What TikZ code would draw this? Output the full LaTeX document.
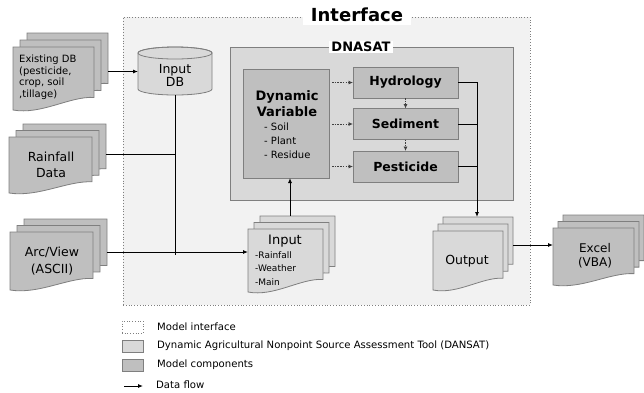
\documentclass[tikz,border=0pt]{standalone}
\usepackage{fontspec}
\setmainfont{DejaVu Sans}
\usetikzlibrary{arrows.meta,calc}
\definecolor{gA}{HTML}{F2F2F2}
\definecolor{gB}{HTML}{D9D9D9}
\definecolor{gC}{HTML}{BFBFBF}
\definecolor{bord}{HTML}{7F7F7F}
\definecolor{dashc}{HTML}{404040}
\tikzset{
  docline/.style={draw=bord, line width=0.8pt},
  stackbox/.style={inner sep=0pt, outer sep=0pt},
  compbox/.style={draw=bord, fill=gC, line width=0.8pt, inner sep=0pt, outer sep=0pt, font=\bfseries\fontsize{12.5}{14}\selectfont},
  flow/.style={draw=black, line width=0.9pt, -{Latex[length=5pt,width=4pt]}},
  plainline/.style={draw=black, line width=0.9pt},
  dasharrow/.style={draw=dashc, line width=0.8pt, dash pattern=on 1.5pt off 1.2pt, -{Latex[length=4.5pt,width=4pt]}},
  legendbox/.style={draw=bord, line width=0.7pt, minimum width=21pt, minimum height=12pt, inner sep=0pt},
  legendtext/.style={anchor=west, font=\fontsize{10.1}{12}\selectfont, inner sep=0pt},
}
\newcommand\docstack[4]{%
  \foreach \k in {2,1,0}{
    \draw[docline,fill=#4] let \p1=(#1.south west), \p2=(#1.north east),
      \n1={\x1+\k*#2pt}, \n2={\x2-(2-\k)*#2pt},
      \n3={\y1+\k*#3pt}, \n4={\y2-(2-\k)*#3pt}
      in (\n1,\n4) -- (\n2,\n4) -- (\n2,{\n3+0.2*(\n4-\n3)})
      .. controls ({\n1+0.7*(\n2-\n1)},{\n3+0.22*(\n4-\n3)}) and ({\n1+0.35*(\n2-\n1)},{\n3-0.08*(\n4-\n3)}) .. (\n1,\n3) -- cycle;
  }%
}
\begin{document}
\begin{tikzpicture}[x=1pt,y=-1pt]
\useasboundingbox (0,0) rectangle (644,392);

% Interface box
\node[draw=bord, dotted, line width=0.8pt, fill=gA, minimum width=407pt, minimum height=288pt, inner sep=0pt] (iface) at (326.5,161) {};
\node[fill=white, inner xsep=8pt, inner ysep=3pt, font=\bfseries\fontsize{18}{20}\selectfont] (ifacet) at (357,15) {Interface};

% DNASAT box
\node[draw=bord, line width=0.8pt, fill=gB, minimum width=283pt, minimum height=153pt, inner sep=0pt] (dnasat) at (371.5,123.5) {};
\node[fill=white, inner xsep=2pt, inner ysep=1pt, font=\bfseries\fontsize{13}{15}\selectfont] (dnasatt) at (361,47) {DNASAT};

% Dynamic variable
\node[compbox, minimum width=86pt, minimum height=109pt] (dv) at (286,123.5) {};
\node[align=center, inner sep=0pt, font=\bfseries\fontsize{13}{16.5}\selectfont] (dvt) at (287,103.5) {Dynamic\\Variable};
\node[align=left, anchor=west, inner sep=0pt, font=\fontsize{10}{14}\selectfont] (dvl) at (264,141) {- Soil\\- Plant\\- Residue};

% components
\node[compbox, minimum width=105pt, minimum height=31pt] (hyd) at (405.5,82.5) {Hydrology};
\node[compbox, minimum width=105pt, minimum height=31pt] (sed) at (405.5,124) {Sediment};
\node[compbox, minimum width=105pt, minimum height=31pt] (pes) at (405.5,166.5) {Pesticide};

% Input DB cylinder
\node[stackbox, minimum width=74pt, minimum height=48pt] (idb) at (175,71) {};
\draw[docline, fill=gB] (138,53) -- (138,89) arc[start angle=180, end angle=360, x radius=37pt, y radius=6pt] -- (212,53) arc[start angle=0, end angle=180, x radius=37pt, y radius=6pt] -- cycle;
\draw[docline] (175,53) ellipse [x radius=37pt, y radius=6pt];
\node[align=center, inner sep=0pt, font=\fontsize{12.5}{13}\selectfont] (idbt) at (175,75) {Input\\DB};

% document stacks
\node[stackbox, minimum width=95pt, minimum height=77pt] (exdb) at (60.5,71.5) {};
\docstack{exdb}{7}{7}{gC}
\node[align=left, anchor=west, inner sep=0pt, font=\fontsize{10}{11.5}\selectfont] (exdbt) at (19,77) {Existing DB\\(pesticide,\\crop, soil\\,tillage)};

\node[stackbox, minimum width=97pt, minimum height=69pt] (rain) at (57.5,158.5) {};
\docstack{rain}{7}{6.5}{gC}
\node[align=center, inner sep=0pt, font=\fontsize{12.5}{16}\selectfont] (raint) at (51,165) {Rainfall\\Data};

\node[stackbox, minimum width=97pt, minimum height=71pt] (arc) at (58.5,254.5) {};
\docstack{arc}{7}{6.5}{gC}
\node[align=center, inner sep=0pt, font=\fontsize{12.5}{17}\selectfont] (arct) at (52,261) {Arc/View\\(ASCII)};

\node[stackbox, minimum width=87pt, minimum height=76pt] (inp) at (291.5,254) {};
\docstack{inp}{6}{6.5}{gB}
\node[inner sep=0pt, font=\fontsize{13}{15}\selectfont] (inpt) at (285,241) {Input};
\node[align=left, anchor=west, inner sep=0pt, font=\fontsize{9}{13.5}\selectfont] (inpl) at (255,268.5) {-Rainfall\\-Weather\\-Main};

\node[stackbox, minimum width=80pt, minimum height=73pt] (out) at (473,253.5) {};
\docstack{out}{5}{7}{gB}
\node[inner sep=0pt, font=\fontsize{12.5}{15}\selectfont] (outt) at (467,261) {Output};

\node[stackbox, minimum width=91pt, minimum height=70pt] (xl) at (598.5,250) {};
\docstack{xl}{5}{6.5}{gC}
\node[align=center, inner sep=0pt, font=\fontsize{12}{14.5}\selectfont] (xlt) at (595,255.5) {Excel\\(VBA)};

% connectors
\draw[flow] (exdb.east) -- (exdb.east -| idb.west);
\draw[plainline] (idb.south) -- (idb.south |- arc.east);
\draw[plainline] ([yshift=4.5pt]rain.east) -- ([yshift=4.5pt]rain.east -| idb.south);
\draw[flow] ([yshift=2.5pt]arc.east) -- ([yshift=2.5pt]arc.east -| inp.west);
\draw[flow] ([xshift=-1.5pt]inp.north) -- ([xshift=-1.5pt]inp.north |- dv.south);
\draw[flow] (hyd.east) -| ([xshift=4pt]out.north);
\draw[plainline] (sed.east) -- ([xshift=4pt]out.north |- sed.east);
\draw[plainline] (pes.east) -- ([xshift=4pt]out.north |- pes.east);
\draw[flow] ([yshift=8.5pt]out.east) -- ([yshift=8.5pt]out.east -| xl.west);

\draw[dasharrow] ([xshift=3pt]dv.east |- hyd.west) -- (hyd.west);
\draw[dasharrow] ([xshift=3pt]dv.east |- sed.west) -- (sed.west);
\draw[dasharrow] ([xshift=3pt]dv.east |- pes.west) -- (pes.west);
\draw[dasharrow] (hyd.south) -- (sed.north);
\draw[dasharrow] (sed.south) -- (pes.north);

% legend
\node[legendbox, dotted, fill=white] (lg1) at (132.5,327) {};
\node[legendtext] (lg1t) at (157,327) {Model interface};
\node[legendbox, fill=gB] (lg2) at (132.5,346) {};
\node[legendtext] (lg2t) at (157,346) {Dynamic Agricultural Nonpoint Source Assessment Tool (DANSAT)};
\node[legendbox, fill=gC] (lg3) at (132.5,365) {};
\node[legendtext] (lg3t) at (157,365) {Model components};
\coordinate (lga) at (124,386);
\coordinate (lgb) at (143,386);
\draw[flow] (lga) -- (lgb);
\node[legendtext] (lg4t) at (156,385) {Data flow};
\end{tikzpicture}
\end{document}
